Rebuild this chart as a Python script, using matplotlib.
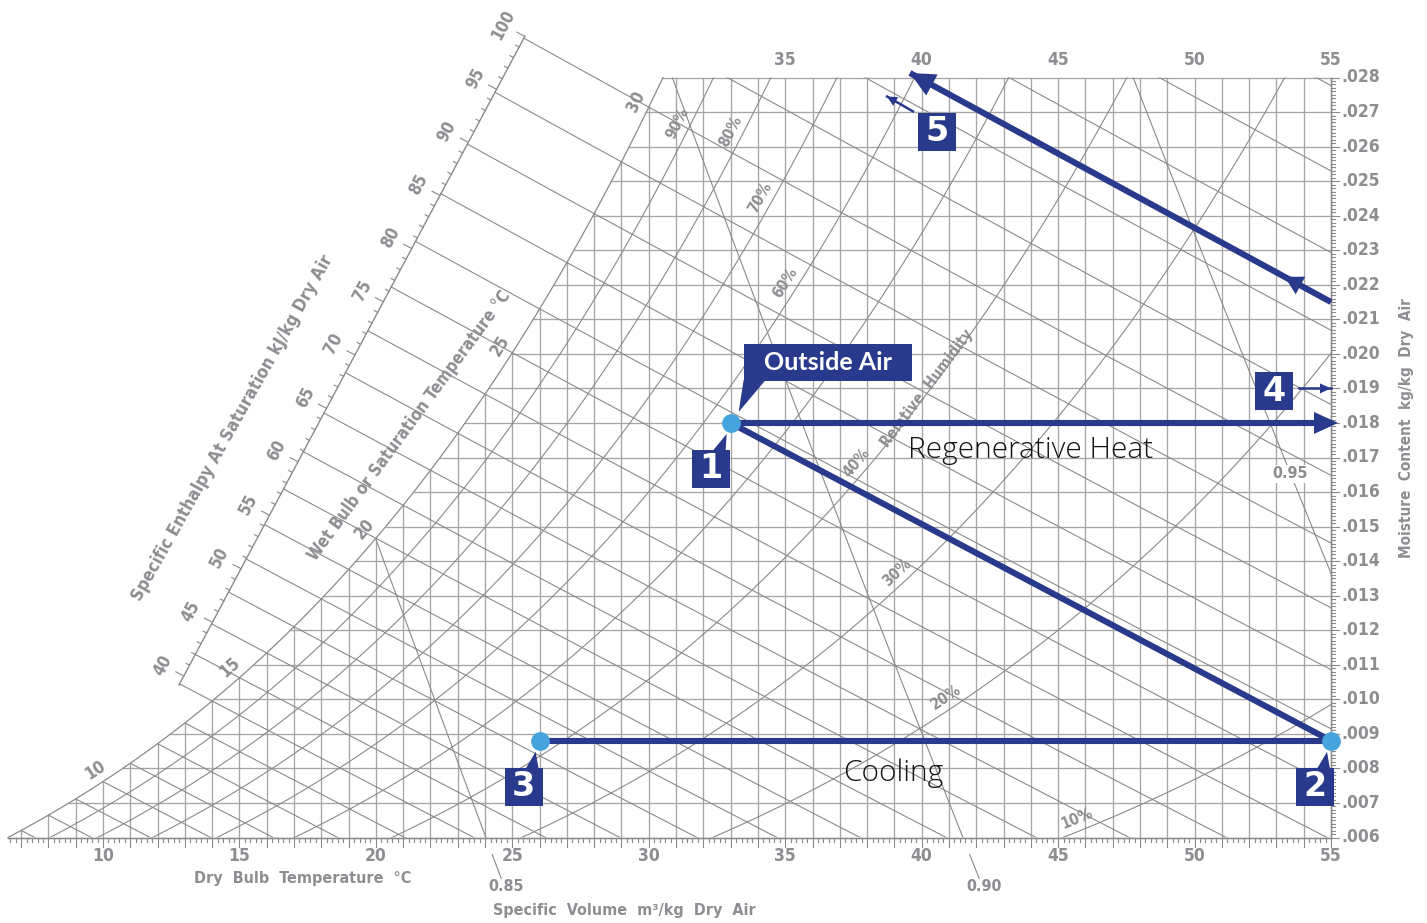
import numpy as np
import matplotlib
matplotlib.use('Agg')
import matplotlib.pyplot as plt
from matplotlib.patches import Polygon, Rectangle

# ---- chart values ----
dry_bulb_labels = [10, 15, 20, 25, 30, 35, 40, 45, 50, 55]
top_labels = [35, 40, 45, 50, 55]
moisture_labels = [0.006, 0.007, 0.008, 0.009, 0.010, 0.011, 0.012, 0.013, 0.014, 0.015, 0.016,
                   0.017, 0.018, 0.019, 0.020, 0.021, 0.022, 0.023, 0.024, 0.025, 0.026, 0.027, 0.028]
rh_levels = [10, 20, 30, 40, 50, 60, 70, 80, 90]
rh_label_levels = [90, 80, 70, 60, 40, 30, 20, 10]
rh_label_w = [0.02651, 0.02628, 0.02436, 0.02188, 0.01664, 0.01343, 0.00978, 0.00622]
wet_bulb_lines = list(range(7, 36))
wet_bulb_labels = [10, 15, 20, 25, 30]
enthalpy_labels = [40, 45, 50, 55, 60, 65, 70, 75, 80, 85, 90, 95, 100]
volume_levels = [0.85, 0.90, 0.95]

state_names = ['1', '2', '3']
state_T = [33.0, 55.0, 26.0]
state_w = [0.0180, 0.0088, 0.0088]
regen_T = [55.0, 39.57]
regen_w = [0.0215, 0.02813]
arrow4_T = [53.82, 55.0]
arrow4_w = [0.0190, 0.0190]
arrow5_T = [39.68, 38.73]
arrow5_w = [0.02702, 0.02745]

NAVY = '#29398b'
DOT = '#45a3de'
GRAY_TXT = '#8c8e91'
GRID = '#a6a6a6'
CURVE = '#8a8a8a'
LBL = dict(fontweight='bold', color=GRAY_TXT, family='DejaVu Sans', fontstretch='condensed')

# pixel scale of the chart (px per degC and px per kg/kg)
X0, T0 = 103.0, 10.0
Y0, W0 = 837.5, 0.006
PX_T = (1331.0 - 103.0) / 45.0
PX_W = 760.0 / 0.022
P_ATM = 101.325


def px_T(x):
    return T0 + (x - X0) / PX_T


def px_w(y):
    return W0 + (Y0 - y) / PX_W


def shift(t, w, dx, dy):
    # dx right, dy down, in pixels
    return t + dx / PX_T, w - dy / PX_W


def screen_angle(dt, dw):
    return np.degrees(np.arctan2(dw * PX_W, dt * PX_T))


def p_sat(t):
    return 0.61094 * np.exp(17.625 * t / (t + 243.04))


def w_rh(t, rh):
    pv = rh / 100.0 * p_sat(t)
    return 0.622 * pv / (P_ATM - pv)


def t_rh(w, rh):
    pv = w * P_ATM / (0.622 + w)
    a = np.log(pv / (rh / 100.0) / 0.61094)
    return 243.04 * a / (17.625 - a)


def w_wetbulb(t, twb):
    ws = w_rh(twb, 100.0)
    return ((2501 - 2.326 * twb) * ws - 1.006 * (t - twb)) / (2501 + 1.86 * t - 4.186 * twb)


def enthalpy(t, w):
    return 1.006 * t + w * (2501 + 1.86 * t)


def t_volume(v, w):
    return v * P_ATM / (0.287042 * (1 + 1.6078 * w)) - 273.15


def head(ax, t_tip, w_tip, t_from, w_from, length, width, zorder=6):
    dx = (t_tip - t_from) * PX_T
    dy = (w_tip - w_from) * PX_W
    n = np.hypot(dx, dy)
    ux, uy = dx / n, dy / n
    bx, by = -ux * length, -uy * length
    nx, ny = -uy * width / 2.0, ux * width / 2.0
    pts = [(0, 0), (bx + nx, by + ny), (bx - nx, by - ny)]
    pts = [(t_tip + a / PX_T, w_tip + b / PX_W) for a, b in pts]
    ax.add_patch(Polygon(pts, closed=True, facecolor=NAVY, edgecolor='none', zorder=zorder))


fig = plt.figure(figsize=(14.27, 9.23), dpi=100, facecolor='white')
ax = fig.add_axes([0, 0, 1, 1])
ax.set_xlim(px_T(0), px_T(1427))
ax.set_ylim(px_w(923), px_w(0))
ax.axis('off')

w_lo, w_hi = moisture_labels[0], moisture_labels[-1]
t_hi_edge = dry_bulb_labels[-1]
tg = np.linspace(0, 60, 6001)
wsg = w_rh(tg, 100.0)
t_sat_lo = np.interp(w_lo, wsg, tg)
t_sat_hi = np.interp(w_hi, wsg, tg)

# chart region used to clip every line family
ts = np.linspace(t_sat_lo, t_sat_hi, 300)
region = np.vstack([np.column_stack([ts, w_rh(ts, 100.0)]), [[t_hi_edge, w_hi], [t_hi_edge, w_lo]]])
clip = Polygon(region, closed=True, facecolor='none', edgecolor='none')
ax.add_patch(clip)

# grid
for t in range(int(np.ceil(t_sat_lo)), t_hi_edge + 1):
    ax.plot([t, t], [w_lo, min(w_rh(t, 100.0), w_hi)], color=GRID, lw=0.95, zorder=1)
for w in moisture_labels:
    ax.plot([np.interp(w, wsg, tg), t_hi_edge], [w, w], color=GRID, lw=0.95, zorder=1)

# borders
ax.plot([t_sat_lo, t_hi_edge], [w_lo, w_lo], color=CURVE, lw=1.0, zorder=2)
ax.plot([t_hi_edge, t_hi_edge], [w_lo, w_hi], color=CURVE, lw=1.0, zorder=2)
ax.plot(ts, w_rh(ts, 100.0), color=CURVE, lw=0.9, zorder=2)

# ticks on the dry bulb and moisture scales
for k in range(33, 276):
    t = k * 0.2
    ln = 9 if k % 5 == 0 else 4
    ax.plot([t, t], [w_lo, w_lo - ln / PX_W], color=CURVE, lw=0.8, zorder=2)
for k in range(60, 281):
    w = k * 0.0001
    ln = 8 if k % 10 == 0 else 4
    ax.plot([t_hi_edge, t_hi_edge + ln / PX_T], [w, w], color=CURVE, lw=0.8, zorder=2)

# relative humidity curves
tc = np.linspace(0, 60, 800)
for rh in rh_levels:
    ln, = ax.plot(tc, w_rh(tc, rh), color=CURVE, lw=0.8, zorder=2)
    ln.set_clip_path(clip)

for rh, w in zip(rh_label_levels, rh_label_w):
    t = t_rh(w, rh)
    ang = screen_angle(t_rh(w + 1e-5, rh) - t, 1e-5)
    a = np.radians(ang)
    lt, lw_ = shift(t, w, -12 * np.sin(a), -12 * np.cos(a))
    ax.text(lt, lw_, '%d%%' % rh, rotation=ang, ha='center', va='center', fontsize=11,
            zorder=3, **LBL)

w40 = px_w(388)
t40 = t_rh(w40, 40)
ang = screen_angle(t_rh(w40 + 1e-5, 40) - t40, 1e-5)
ax.text(*shift(t40, w40, -4, 0), 'Relative  Humidity', rotation=ang, ha='center', va='center',
        fontsize=11, zorder=3, **LBL)

# enthalpy scale
sc_T = (px_T(179), px_T(525))
sc_w = (px_w(685), px_w(36))
ax.plot(sc_T, sc_w, color=CURVE, lw=1.0, zorder=2)
ss = np.linspace(0, 1, 4001)
s_T = sc_T[0] + ss * (sc_T[1] - sc_T[0])
s_w = sc_w[0] + ss * (sc_w[1] - sc_w[0])
s_h = enthalpy(s_T, s_w)
sc_ang = screen_angle(sc_T[1] - sc_T[0], sc_w[1] - sc_w[0])
for h in range(int(np.ceil(s_h[0])), 101):
    s = np.interp(h, s_h, ss)
    t = sc_T[0] + s * (sc_T[1] - sc_T[0])
    w = sc_w[0] + s * (sc_w[1] - sc_w[0])
    slope = (1.006 + 1.86 * w) / (2501 + 1.86 * t) * PX_W / PX_T
    n = np.hypot(1.0, slope)
    ux, uy = -1.0 / n, -slope / n          # up-left, screen y down
    ln = 9 if h % 5 == 0 else 4
    te, we = shift(t, w, ux * ln, uy * ln)
    ax.plot([t, te], [w, we], color=CURVE, lw=0.8, zorder=2)
    if h in enthalpy_labels:
        ax.text(*shift(t, w, ux * 24, uy * 24), str(h), rotation=sc_ang, ha='center', va='center',
                fontsize=12, **LBL)

# wet bulb lines
tt = np.linspace(sc_T[0] - 0.5, sc_T[1] + 0.5, 4000)
for twb in wet_bulb_lines:
    tr = np.linspace(twb, 60, 300)
    ln, = ax.plot(tr, w_wetbulb(tr, twb), color=CURVE, lw=0.8, zorder=2)
    ln.set_clip_path(clip)
    f = w_wetbulb(tt, twb) - (sc_w[0] + (tt - sc_T[0]) * (sc_w[1] - sc_w[0]) / (sc_T[1] - sc_T[0]))
    i = np.argmin(np.abs(f))
    if abs(f[i]) < 2e-5 and sc_T[0] - 0.1 <= tt[i] <= sc_T[1] + 0.1 and w_rh(twb, 100.0) <= w_hi:
        tl = np.linspace(tt[i], twb, 50)
        ax.plot(tl, w_wetbulb(tl, twb), color=CURVE, lw=0.8, zorder=2)

for twb in wet_bulb_labels:
    w = w_rh(twb, 100.0)
    ang = screen_angle(0.01, w_rh(twb + 0.01, 100.0) - w)
    a = np.radians(ang)
    ax.text(*shift(twb, w, -14 * np.sin(a), -14 * np.cos(a)), str(twb), rotation=ang,
            ha='center', va='center', fontsize=12, **LBL)

# specific volume lines
wv = np.linspace(w_lo, w_hi + 0.001, 200)
for v in volume_levels:
    ln, = ax.plot(t_volume(v, wv), wv, color=CURVE, lw=0.8, zorder=2)
    ln.set_clip_path(clip)
for v in volume_levels[:2]:
    wl = np.array([w_lo - 17 / PX_W, w_lo - 41 / PX_W])
    ax.plot(t_volume(v, wl), wl, color=CURVE, lw=0.8)
    ax.text(*shift(t_volume(v, wl[1]), wl[1], 5, 8), '%.2f' % v, ha='center', va='center',
            fontsize=11.5, **LBL)
w95 = px_w(474)
ax.text(t_volume(volume_levels[2], w95), w95, '%.2f' % volume_levels[2], ha='center', va='center',
        fontsize=11.5, zorder=3, bbox=dict(boxstyle='square,pad=0.1', fc='white', ec='none'), **LBL)

# scale labels and titles
for t in dry_bulb_labels:
    ax.text(t, px_w(856), str(t), ha='center', va='center', fontsize=12.5, **LBL)
for t in top_labels:
    ax.text(t, px_w(60), str(t), ha='center', va='center', fontsize=12.5, **LBL)
for w in moisture_labels:
    ax.text(px_T(1341), w, ('%.3f' % w)[1:], ha='left', va='center', fontsize=12.5, **LBL)

ax.text(px_T(303), px_w(878), 'Dry  Bulb  Temperature  \u00b0C', ha='center', va='center',
        fontsize=11.5, **LBL)
ax.text(px_T(493), px_w(910), 'Specific  Volume  m\u00b3/kg  Dry  Air', ha='left', va='center',
        fontsize=11.5, **LBL)
ax.text(px_T(1407), px_w(428), 'Moisture  Content  kg/kg  Dry  Air', rotation=90, ha='center',
        va='center', fontsize=11, **LBL)
ax.text(px_T(232), px_w(428), 'Specific Enthalpy At Saturation kJ/kg Dry Air', rotation=60.7,
        ha='center', va='center', fontsize=12.5, **LBL)
ax.text(px_T(410), px_w(426), 'Wet Bulb or Saturation Temperature \u00b0C', rotation=53.7,
        ha='center', va='center', fontsize=12, **LBL)

# process lines
lw_proc = 4.4
ax.plot([state_T[0], t_hi_edge], [state_w[0], state_w[0]], color=NAVY, lw=lw_proc, zorder=5,
        solid_capstyle='butt')
head(ax, *shift(t_hi_edge, state_w[0], 7, 0), state_T[0], state_w[0], 24, 22)
ax.plot(state_T[:2], state_w[:2], color=NAVY, lw=lw_proc, zorder=5)
ax.plot(state_T[1:], state_w[1:], color=NAVY, lw=lw_proc, zorder=5)

ax.plot(regen_T, regen_w, color=NAVY, lw=lw_proc, zorder=5, solid_capstyle='butt')
head(ax, regen_T[1], regen_w[1], regen_T[0], regen_w[0], 25, 24)
mid_T = regen_T[0] + 0.11 * (regen_T[1] - regen_T[0])
mid_w = regen_w[0] + 0.11 * (regen_w[1] - regen_w[0])
head(ax, mid_T, mid_w, regen_T[0], regen_w[0], 18, 20)

ax.plot(arrow4_T, arrow4_w, color=NAVY, lw=1.8, zorder=5)
head(ax, arrow4_T[1], arrow4_w[1], arrow4_T[0], arrow4_w[0], 11, 10)
ax.plot(arrow5_T, arrow5_w, color=NAVY, lw=1.8, zorder=5)
head(ax, arrow5_T[1], arrow5_w[1], arrow5_T[0], arrow5_w[0], 10, 10)

ax.plot(state_T, state_w, 'o', ms=13.5, color=DOT, mec='none', zorder=7)


def number_box(t, w, text):
    x0, y0 = shift(t, w, -19, 19)
    ax.add_patch(Rectangle((x0, y0), 38 / PX_T, 38 / PX_W, facecolor=NAVY, edgecolor='none',
                           zorder=6))
    ax.text(t, w, text, ha='center', va='center', fontsize=24, fontweight='bold', color='white',
            zorder=7)


box_off = [(-20, 46), (-16, 46), (-16, 46)]
for name, t, w, (dx, dy) in zip(state_names, state_T, state_w, box_off):
    bt, bw = shift(t, w, dx, dy)
    number_box(bt, bw, name)
    tri = [shift(bt, bw, 2, -18), shift(bt, bw, 15, -18), shift(t, w, -4, 11)]
    ax.add_patch(Polygon(tri, closed=True, facecolor=NAVY, edgecolor='none', zorder=6))

number_box(*shift(arrow4_T[0], arrow4_w[0], -24.5, 3), '4')
number_box(*shift(arrow5_T[0], arrow5_w[0], 24, 20.5), '5')

# outside air callout
ox, oy = shift(state_T[0], state_w[0], 13, -42)
ax.add_patch(Rectangle((ox, oy), 168 / PX_T, 37 / PX_W, facecolor=NAVY, edgecolor='none', zorder=6))
tri = [shift(state_T[0], state_w[0], 13, -43), shift(state_T[0], state_w[0], 35, -43),
       shift(state_T[0], state_w[0], 8, -11)]
ax.add_patch(Polygon(tri, closed=True, facecolor=NAVY, edgecolor='none', zorder=6))
ax.text(*shift(state_T[0], state_w[0], 97, -60.5), 'Outside Air', ha='center', va='center',
        fontsize=18, fontweight='bold', color='white', family=['Lato', 'DejaVu Sans'], zorder=7)

ax.text(px_T(1031), px_w(450), 'Regenerative Heat', ha='center', va='center', fontsize=21.5,
        fontweight='light', color='#151515', family=['Open Sans', 'DejaVu Sans'], zorder=4)
ax.text(px_T(893), px_w(773), 'Cooling', ha='center', va='center', fontsize=21.5,
        fontweight='light', color='#151515', family=['Open Sans', 'DejaVu Sans'], zorder=4)

fig.savefig('out.png', dpi=100, facecolor='white')
